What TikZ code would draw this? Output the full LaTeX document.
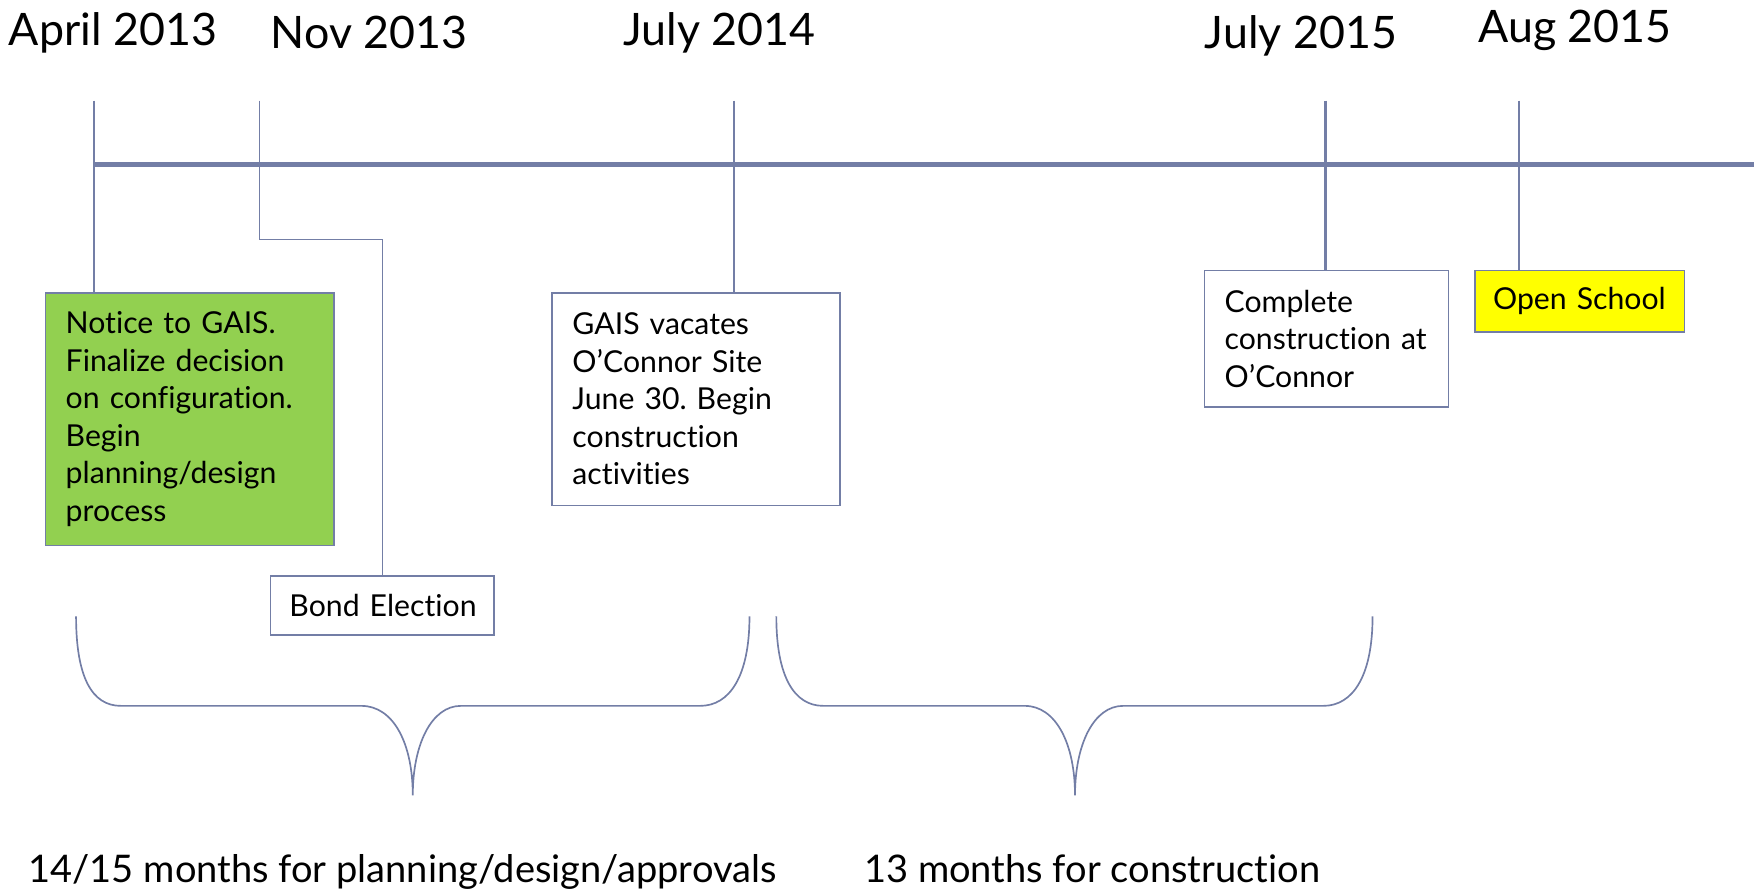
\documentclass[tikz,border=0pt]{standalone}
\usepackage{fontspec}
\setmainfont{Lato}[Ligatures=NoCommon]
\definecolor{ln}{RGB}{115,126,166}
\definecolor{grn}{RGB}{146,208,80}
\definecolor{ylw}{RGB}{255,255,0}
\frenchspacing
\begin{document}
\begin{tikzpicture}[x=1pt,y=-1pt,
  box/.style={draw=ln, line width=1.5pt, rectangle, inner xsep=18pt, inner ysep=0pt,
    align=left, anchor=north west, font=\fontsize{27}{33.5}\selectfont},
  datelbl/.style={anchor=base, font=\fontsize{40}{48}\selectfont},
  tick/.style={draw=ln, line width=2pt},
  brace/.style={draw=ln, line width=1.5pt},
  note/.style={anchor=base west, font=\fontsize{34}{40}\selectfont}]
\useasboundingbox (0,0) rectangle (1568,800);

% date labels
\node[datelbl] (dA) at (101,41) {April 2013};
\node[datelbl] (dN) at (330,43) {Nov 2013};
\node[datelbl] (dJ4) at (643,41) {July 2014};
\node[datelbl] (dJ5) at (1163,43) {July 2015};
\node[datelbl] (dG) at (1408,38) {Aug 2015};

% boxes
\node[box, fill=grn, text width=222pt, minimum height=226pt] (green) at (40,261)
  {Notice to GAIS.\\Finalize decision\\on configuration.\\Begin\\planning/design\\process};
\node[box, fill=white, text width=166pt, minimum height=53pt, inner xsep=17pt] (bond) at (241,514)
  {\mbox{Bond Election}};
\node[box, fill=white, text width=221pt, minimum height=190pt] (gais) at (493,261)
  {GAIS vacates\\O’Connor Site\\June 30. Begin\\construction\\activities};
\node[box, fill=white, text width=182pt, minimum height=122pt] (compl) at (1076,241)
  {Complete\\construction at\\O’Connor};
\node[box, fill=ylw, text width=155pt, minimum height=55pt, inner xsep=16pt] (open) at (1318,241)
  {\mbox{Open School}};

% tick start coordinates
\coordinate (tA) at (84,90);
\coordinate (tN) at (232,90);
\coordinate (tJ4) at (656,90);
\coordinate (tJ5) at (1185,90);
\coordinate (tG) at (1358,90);
\coordinate (ms) at (84,147);
\coordinate (me) at (1568,147);

% ticks
\draw[tick, line width=2.5pt] (tA) -- (tA |- green.north);
\draw[tick, line width=1.4pt] (tN) -- ++(0,124) -| (bond.north);
\draw[tick] (tJ4) -- (tJ4 |- gais.north);
\draw[tick] (tJ5) -- (tJ5 |- compl.north);
\draw[tick] (tG) -- (tG |- open.north);

% main line
\draw[draw=ln, line width=4pt] (ms) -- (me);

% braces
\draw[brace] (68,551) .. controls (68,605) and (82,631) .. (108,631) -- (323,631)
  .. controls (352,631) and (369,665) .. (369,711)
  .. controls (369,665) and (386,631) .. (412,631) -- (626,631)
  .. controls (652,631) and (670,605) .. (670,551);
\draw[brace] (694,551) .. controls (694,605) and (710,631) .. (736,631) -- (916,631)
  .. controls (944,631) and (961,665) .. (961,711)
  .. controls (961,665) and (978,631) .. (1004,631) -- (1183,631)
  .. controls (1209,631) and (1227,605) .. (1227,551);

% bottom notes
\node[note] (n1) at (22,789) {14/15 months for planning/design/approvals};
\node[note] (n2) at (769,789) {13 months for construction};
\end{tikzpicture}
\end{document}
